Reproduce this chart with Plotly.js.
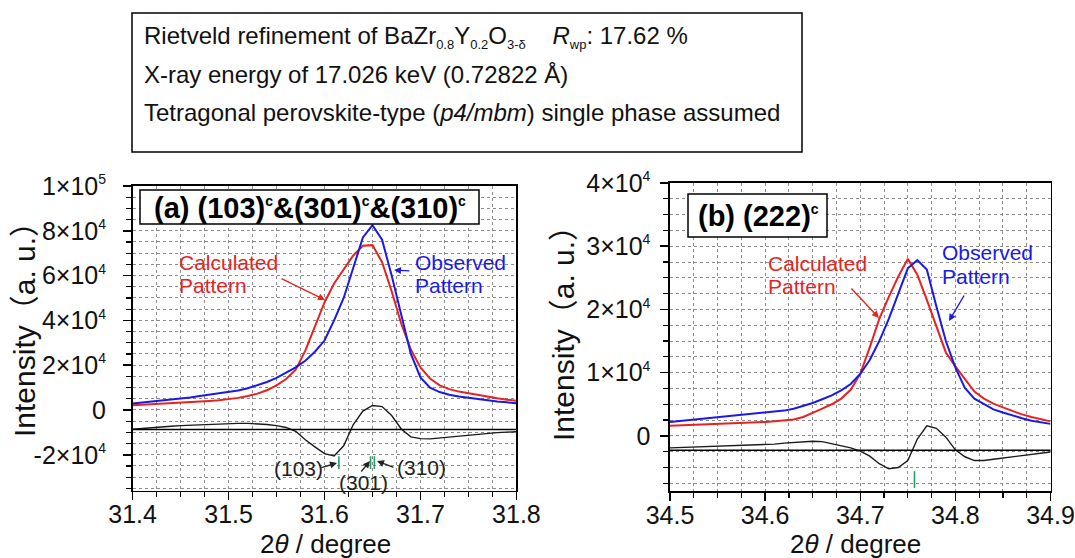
<!DOCTYPE html>
<html>
<head>
<meta charset="utf-8">
<script src="https://cdn.plot.ly/plotly-3.0.1.min.js"></script>
<style>
  html, body { margin: 0; padding: 0; background: #fff; }
  #chart { width: 1075px; height: 558px; }
</style>
</head>
<body>
<div id="chart"></div>
<script>
// ---- (a) (103)c & (301)c & (310)c region ----
const thetaA = [31.40, 31.41, 31.42, 31.43, 31.44, 31.45, 31.46, 31.47, 31.48, 31.49,
                31.50, 31.51, 31.52, 31.53, 31.54, 31.55, 31.56, 31.57, 31.58, 31.59,
                31.60, 31.61, 31.62, 31.63, 31.64, 31.65, 31.66, 31.67, 31.68, 31.69,
                31.70, 31.71, 31.72, 31.73, 31.74, 31.75, 31.76, 31.77, 31.78, 31.79, 31.80];
const observedA = [2900, 3300, 3700, 4100, 4600, 5100, 5600, 6200, 6800, 7300,
                   7900, 8700, 9700, 11000, 12500, 14300, 16500, 19000, 22000, 26000,
                   31000, 40000, 50000, 64000, 77000, 82500, 76000, 60000, 42000, 25000,
                   14500, 10000, 8000, 6800, 6000, 5400, 4800, 4300, 3800, 3400, 3000];
const calculatedA = [2100, 2300, 2500, 2700, 2900, 3100, 3400, 3700, 4000, 4300,
                     4800, 5400, 6200, 7300, 8800, 11000, 13800, 18000, 26500, 37000,
                     48000, 56500, 63000, 69000, 73300, 73600, 66000, 53000, 38500, 27000,
                     19000, 14000, 11000, 9300, 8200, 7400, 6600, 5900, 5200, 4600, 4100];
const differenceA = [-8600, -8200, -7900, -7600, -7300, -7000, -6800, -6600, -6400, -6200,
                     -6100, -6000, -6000, -6200, -6500, -7000, -7800, -9500, -13300, -16500,
                     -19500, -20500, -16000, -6500, -500, 2000, 1500, -2500, -8500, -12000,
                     -12800, -12900, -12500, -12000, -11400, -11000, -10700, -10400, -10100, -9900, -9700];
const baselineA = -8700;
const braggA = [31.615, 31.648, 31.652];
const braggRowA = -23500;
const yTicksA = [-20000, 0, 20000, 40000, 60000, 80000, 100000];
const yTickTextA = ['-2×10^4', '0', '2×10^4', '4×10^4', '6×10^4', '8×10^4', '1×10^5'];

// ---- (b) (222)c region ----
const thetaB = [34.50, 34.51, 34.52, 34.53, 34.54, 34.55, 34.56, 34.57, 34.58, 34.59,
                34.60, 34.61, 34.62, 34.63, 34.64, 34.65, 34.66, 34.67, 34.68, 34.69,
                34.70, 34.71, 34.72, 34.73, 34.74, 34.75, 34.76, 34.77, 34.78, 34.79,
                34.80, 34.81, 34.82, 34.83, 34.84, 34.85, 34.86, 34.87, 34.88, 34.89, 34.90];
const observedB = [2200, 2350, 2500, 2650, 2800, 2950, 3100, 3250, 3400, 3500,
                   3600, 3800, 4000, 4300, 4700, 5200, 5800, 6400, 7200, 8200,
                   9800, 12000, 15000, 18500, 22500, 26500, 27800, 26300, 20500, 15000,
                   10800, 7600, 5900, 5000, 4200, 3700, 3200, 2800, 2400, 2100, 1900];
const calculatedB = [1600, 1650, 1700, 1750, 1800, 1850, 1900, 2000, 2050, 2100,
                     2200, 2300, 2400, 2600, 3000, 3600, 4300, 5000, 5900, 7300,
                     9800, 14000, 18500, 22000, 25200, 28000, 25500, 21500, 17500, 13200,
                     11000, 9000, 7000, 5900, 5100, 4500, 3900, 3400, 3000, 2600, 2300];
const differenceB = [-1900, -1850, -1800, -1750, -1700, -1650, -1550, -1500, -1500, -1450,
                     -1400, -1300, -1150, -1050, -1000, -850, -900, -1200, -1500, -1900,
                     -2400, -3200, -4400, -5200, -5000, -3900, -500, 1600, 1200, -200,
                     -2200, -3300, -3900, -3900, -3700, -3500, -3300, -3100, -2900, -2700, -2550];
const baselineB = -2280;
const braggB = [34.757];
const braggRowB = -6900;
const yTicksB = [0, 10000, 20000, 30000, 40000];
const yTickTextB = ['0', '1×10^4', '2×10^4', '3×10^4', '4×10^4'];

// ---- styling ----
const FONT = 'Liberation Sans, Arial, Noto Sans CJK SC, sans-serif';
const RED = '#e8231f';
const BLUE = '#1a1ae6';
const GREEN = '#2f9a68';
const GRID = '#8c8c8c';
const W = 1075, H = 558;
const px = v => v / W;          // page pixel -> paper x
const py = v => 1 - v / H;      // page pixel -> paper y

// small raised / lowered text
const sup = (s, size) => `<sup><span style="font-size:${size}px">${s}</span></sup>`;
const sub = (s, size) => `<sub><span style="font-size:${size}px">${s}</span></sub>`;
// "8×10^4" -> 8×10 with a small raised exponent
const powerLabel = t => t.replace(/\^(\d+)/, (m, e) => sup(e, 14));

function line(x, y, color, width, xa, ya) {
  return { x, y, type: 'scatter', mode: 'lines', xaxis: xa, yaxis: ya,
           line: { color, width }, hoverinfo: 'skip' };
}
function bragg(x, row, size, xa, ya) {
  return { x, y: x.map(() => row), type: 'scatter', mode: 'markers', xaxis: xa, yaxis: ya,
           marker: { symbol: 'line-ns', size, line: { color: GREEN, width: 1.6 } },
           hoverinfo: 'skip' };
}

const data = [
  line(thetaA, differenceA, '#1a1a1a', 1.4, 'x', 'y'),
  line(thetaA, calculatedA, RED, 2, 'x', 'y'),
  line(thetaA, observedA, BLUE, 2, 'x', 'y'),
  bragg(braggA, braggRowA, 9, 'x', 'y'),
  line(thetaB, differenceB, '#1a1a1a', 1.4, 'x2', 'y2'),
  line(thetaB, calculatedB, RED, 2, 'x2', 'y2'),
  line(thetaB, observedB, BLUE, 2, 'x2', 'y2'),
  bragg(braggB, braggRowB, 12, 'x2', 'y2')
];

function xAxis(domain, range, anchor) {
  return {
    domain, range, anchor, tick0: range[0], dtick: 0.1, tickformat: '.1f',
    ticks: 'outside', ticklen: 8, tickwidth: 1.5, tickcolor: '#000',
    showline: true, linecolor: '#000', linewidth: 1.6, mirror: true,
    showgrid: true, gridcolor: GRID, griddash: 'dot', gridwidth: 1,
    zeroline: false, ticklabelstandoff: -7, ticklabeloverflow: 'allow',
    tickfont: { family: FONT, size: 25, color: '#111' },
    minor: { dtick: 0.025, tick0: range[0], ticks: 'outside', ticklen: 5, tickwidth: 1.2,
             tickcolor: '#000', showgrid: true, gridcolor: GRID, griddash: 'dot', gridwidth: 1 }
  };
}
function yAxis(domain, range, anchor, vals, text, minorStep, standoff) {
  return {
    domain, range, anchor, tickmode: 'array', tickvals: vals, ticktext: text.map(powerLabel),
    ticks: 'outside', ticklen: 8, tickwidth: 1.5, tickcolor: '#000',
    showline: true, linecolor: '#000', linewidth: 1.6, mirror: true,
    showgrid: true, gridcolor: GRID, griddash: 'dot', gridwidth: 1,
    zeroline: false, ticklabelstandoff: standoff, ticklabeloverflow: 'allow',
    tickfont: { family: FONT, size: 25, color: '#111' },
    minor: { tick0: 0, dtick: minorStep, ticks: 'outside', ticklen: 5, tickwidth: 1.2,
             tickcolor: '#000', showgrid: true, gridcolor: GRID, griddash: 'dot', gridwidth: 1 }
  };
}

function txt(text, x, y, size, color, opts) {
  return Object.assign({ text, x: px(x), y: py(y), xref: 'paper', yref: 'paper',
    showarrow: false, xanchor: 'left', yanchor: 'middle',
    font: { family: FONT, size, color } }, opts || {});
}
function arrow(fromX, fromY, tipX, tipY, color) {
  return { text: '', x: px(tipX), y: py(tipY), xref: 'paper', yref: 'paper',
    ax: fromX - tipX, ay: fromY - tipY, axref: 'pixel', ayref: 'pixel',
    showarrow: true, arrowhead: 2, arrowsize: 1, arrowwidth: 1.4, arrowcolor: color };
}

const cSup = sup('c', 14);
const annotations = [
  // header box lines
  txt(`Rietveld refinement of BaZr${sub('0.8', 13)}Y${sub('0.2', 13)}O${sub('3-δ', 13)}    <i>R</i>${sub('wp', 13)}: 17.62 %`, 142, 37, 24, '#111'),
  txt('X-ray energy of 17.026 keV (0.72822 Å)', 142, 74, 24, '#111'),
  txt('Tetragonal perovskite-type (<i>p4/mbm</i>) single phase assumed', 142, 113, 24, '#111'),
  // panel labels
  txt(`<b>(a) (103)${cSup}&amp;(301)${cSup}&amp;(310)${cSup}</b>`, 310, 208, 29, '#000', { xanchor: 'center' }),
  txt(`<b>(b) (222)${cSup}</b>`, 758, 216, 29, '#000', { xanchor: 'center' }),
  // series callouts (a)
  txt('Calculated', 177, 262, 21, RED),
  txt('Pattern', 177, 285.5, 21, RED),
  arrow(280, 278, 325, 300, RED),
  txt('Observed', 413, 262, 21, BLUE),
  txt('Pattern', 413, 285.5, 21, BLUE),
  arrow(411, 271, 394, 270, BLUE),
  // series callouts (b)
  txt('Calculated', 766, 263, 21, RED),
  txt('Pattern', 766, 286.5, 21, RED),
  arrow(850, 287, 879, 318, RED),
  txt('Observed', 940, 252.5, 21, BLUE),
  txt('Pattern', 940, 276, 21, BLUE),
  arrow(965, 294, 949, 321, BLUE),
  // reflection labels (a)
  txt('(103)', 272, 468, 21, '#222'),
  arrow(320, 468, 337, 463, '#222'),
  txt('(301)', 337, 482, 21, '#222'),
  arrow(360, 473, 370, 461, '#222'),
  txt('(310)', 395, 467, 21, '#222'),
  arrow(395, 468, 377, 461, '#222'),
  // axis titles
  txt('Intensity（a. u.）', 24, 322, 30, '#111', { xanchor: 'center', textangle: -90 }),
  txt('Intensity（a. u.）', 563, 326, 30, '#111', { xanchor: 'center', textangle: -90 }),
  txt('2<i>θ</i> / degree', 325, 543.5, 26, '#111', { xanchor: 'center' }),
  txt('2<i>θ</i> / degree', 855, 543.5, 26, '#111', { xanchor: 'center' })
];

const shapes = [
  { type: 'rect', xref: 'paper', yref: 'paper', x0: px(132), x1: px(802), y0: py(152), y1: py(13),
    line: { color: '#000', width: 1.5 }, fillcolor: 'rgba(0,0,0,0)' },
  { type: 'rect', xref: 'paper', yref: 'paper', x0: px(140), x1: px(479), y0: py(224), y1: py(190),
    line: { color: '#000', width: 1.5 }, fillcolor: '#fff', layer: 'above' },
  { type: 'rect', xref: 'paper', yref: 'paper', x0: px(688), x1: px(827), y0: py(237), y1: py(194),
    line: { color: '#000', width: 1.5 }, fillcolor: '#fff', layer: 'above' },
  { type: 'line', xref: 'x domain', yref: 'y', x0: 0, x1: 1, y0: baselineA, y1: baselineA,
    line: { color: '#000', width: 1.6 } },
  { type: 'line', xref: 'x2 domain', yref: 'y2', x0: 0, x1: 1, y0: baselineB, y1: baselineB,
    line: { color: '#000', width: 1.6 } }
];

const layout = {
  width: W, height: H,
  margin: { l: 0, r: 0, t: 0, b: 0 },
  paper_bgcolor: '#fff', plot_bgcolor: '#fff',
  showlegend: false,
  font: { family: FONT, color: '#111' },
  xaxis: xAxis([px(132.6), px(516.4)], [31.4, 31.8], 'y'),
  yaxis: yAxis([1 - 490.6 / H, 1 - 186 / H], [-36000, 100000], 'x', yTicksA, yTickTextA, 5000, 12),
  xaxis2: xAxis([px(670), px(1050.5)], [34.5, 34.9], 'y2'),
  yaxis2: yAxis([1 - 490.9 / H, 1 - 183 / H], [-8700, 40000], 'x2', yTicksB, yTickTextB, 2500, 5),
  shapes, annotations
};

Plotly.newPlot('chart', data, layout, { staticPlot: true, displayModeBar: false });
</script>
</body>
</html>
